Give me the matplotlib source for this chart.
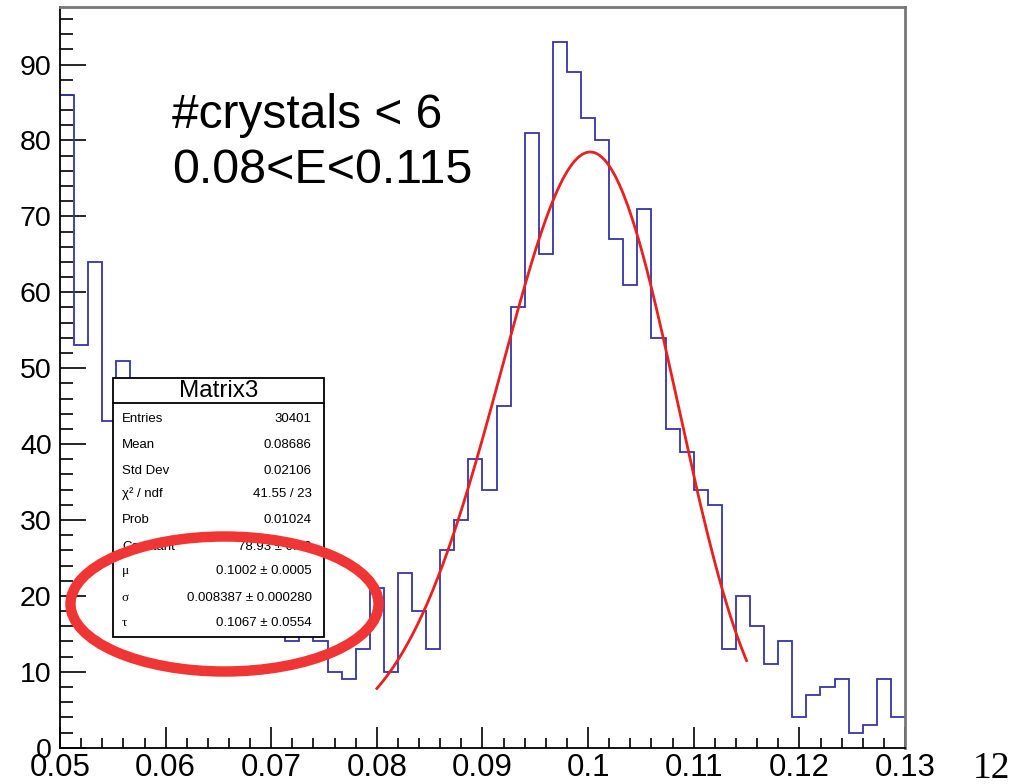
import numpy as np
import matplotlib.pyplot as plt
from matplotlib.patches import Ellipse, Rectangle

plt.rcParams['font.family'] = ['Liberation Sans', 'DejaVu Sans']

# histogram "Matrix3": 60 bins between 0.05 and 0.13
x_lo, x_hi, n_bins = 0.05, 0.13, 60
counts = [86, 53, 64, 43, 51, 40, 37, 33, 30, 27,
          24, 22, 20, 19, 17, 16, 14, 16, 14, 10,
          9, 13, 21, 10, 23, 18, 13, 26, 30, 38,
          34, 45, 58, 81, 65, 93, 89, 83, 80, 67,
          61, 71, 54, 42, 39, 34, 32, 13, 20, 16,
          11, 14, 4, 7, 8, 9, 2, 3, 9, 4]

# fit parameters shown in the stats box (Novosibirsk shape)
fit_const = 78.93
fit_mu = 0.1002
fit_sigma = 0.008387
fit_tau = 0.1067
fit_range = [0.08, 0.115]

xticks = [0.05, 0.06, 0.07, 0.08, 0.09, 0.10, 0.11, 0.12, 0.13]
xlabels = ['0.05', '0.06', '0.07', '0.08', '0.09', '0.1', '0.11', '0.12', '0.13']
yticks = [0, 10, 20, 30, 40, 50, 60, 70, 80, 90]

stat_names = ['Entries', 'Mean', 'Std Dev', 'χ² / ndf', 'Prob', 'Constant', 'μ', 'σ', 'τ']
stat_values = ['30401', '0.08686', '0.02106', '41.55 / 23', '0.01024',
               '78.93 ± 0.00', '0.1002 ± 0.0005', '0.008387 ± 0.000280', '0.1067 ± 0.0554']

W, H = 1024, 784
fig = plt.figure(figsize=(W / 100, H / 100), dpi=100)
ax = fig.add_axes([60 / W, (H - 747.7) / H, 845 / W, 741.2 / H])

edges = np.linspace(x_lo, x_hi, n_bins + 1)
ax.stairs(counts, edges, baseline=None, color='#3535a8', lw=1.3, zorder=2)

xf = np.linspace(fit_range[0], fit_range[1], 300)
s = np.sqrt(np.log(4))
lam = np.sinh(fit_tau * s) / (fit_sigma * fit_tau * s)
arg = 1 - lam * fit_tau * (xf - fit_mu)
yf = fit_const * np.exp(-0.5 * (np.log(arg) ** 2 / fit_tau ** 2 + fit_tau ** 2))
ax.plot(xf, yf, color='#e8201e', lw=2.0, zorder=3)

ax.set_xlim(x_lo, x_hi)
ax.set_ylim(0, 97.65)
ax.set_xticks(xticks)
ax.set_xticklabels(xlabels)
ax.set_xticks(np.arange(0.052, 0.13, 0.002), minor=True)
ax.set_yticks(yticks)
ax.set_yticks(np.arange(2, 97, 2), minor=True)

ax.tick_params(which='both', direction='in', top=False, right=False, color='black', width=1.2)
ax.tick_params(axis='y', which='major', length=18.7, labelsize=20.5, pad=6)
ax.tick_params(axis='y', which='minor', length=9.4)
ax.tick_params(axis='x', which='major', length=15, labelsize=22.5, pad=4)
ax.tick_params(axis='x', which='minor', length=7)

for side in ['top', 'right']:
    ax.spines[side].set_color('#777777')
    ax.spines[side].set_linewidth(2)
for side in ['left', 'bottom']:
    ax.spines[side].set_color('black')
    ax.spines[side].set_linewidth(1.3)

# annotation text
fig.text(172 / W, (H - 128) / H, '#crystals < 6', fontsize=34.5, va='baseline')
fig.text(172 / W, (H - 183) / H, '0.08<E<0.115', fontsize=34.8, va='baseline')

# stats box
bx0, bx1, by0, by1 = 113, 324, 377.7, 636.7
fig.add_artist(Rectangle((bx0 / W, (H - by1) / H), (bx1 - bx0) / W, (by1 - by0) / H,
                         transform=fig.transFigure, facecolor='white',
                         edgecolor='black', lw=1.3, zorder=5))
fig.add_artist(plt.Line2D([bx0 / W, bx1 / W], [(H - 403.3) / H] * 2,
                          transform=fig.transFigure, color='black', lw=1.3, zorder=6))
fig.text((bx0 + bx1) / 2 / W, (H - 391) / H, 'Matrix3', fontsize=17.5,
         ha='center', va='center', zorder=7)
row_y = [419, 444.5, 471.5, 494, 520, 547, 571, 598, 623]
for name, val, yy in zip(stat_names, stat_values, row_y):
    fam = ['Liberation Serif'] if name in ['μ', 'σ', 'τ'] else ['Liberation Sans']
    fig.text(122 / W, (H - yy) / H, name, fontsize=9.5, family=fam,
             ha='left', va='center', zorder=7)
    fig.text(311.7 / W, (H - yy) / H, val, fontsize=9.5,
             ha='right', va='center', zorder=7)

# red hand-drawn ellipse
fig.add_artist(Ellipse((224.5 / W, (H - 604) / H), 308 / W, 135 / H,
                       transform=fig.transFigure, fill=False,
                       edgecolor='#f03535', lw=7.5, zorder=10))

# slide number
fig.text(991 / W, (H - 778) / H, '12', fontsize=27, family=['Liberation Serif'],
         ha='center', va='baseline')

fig.savefig('out.png', dpi=100)
